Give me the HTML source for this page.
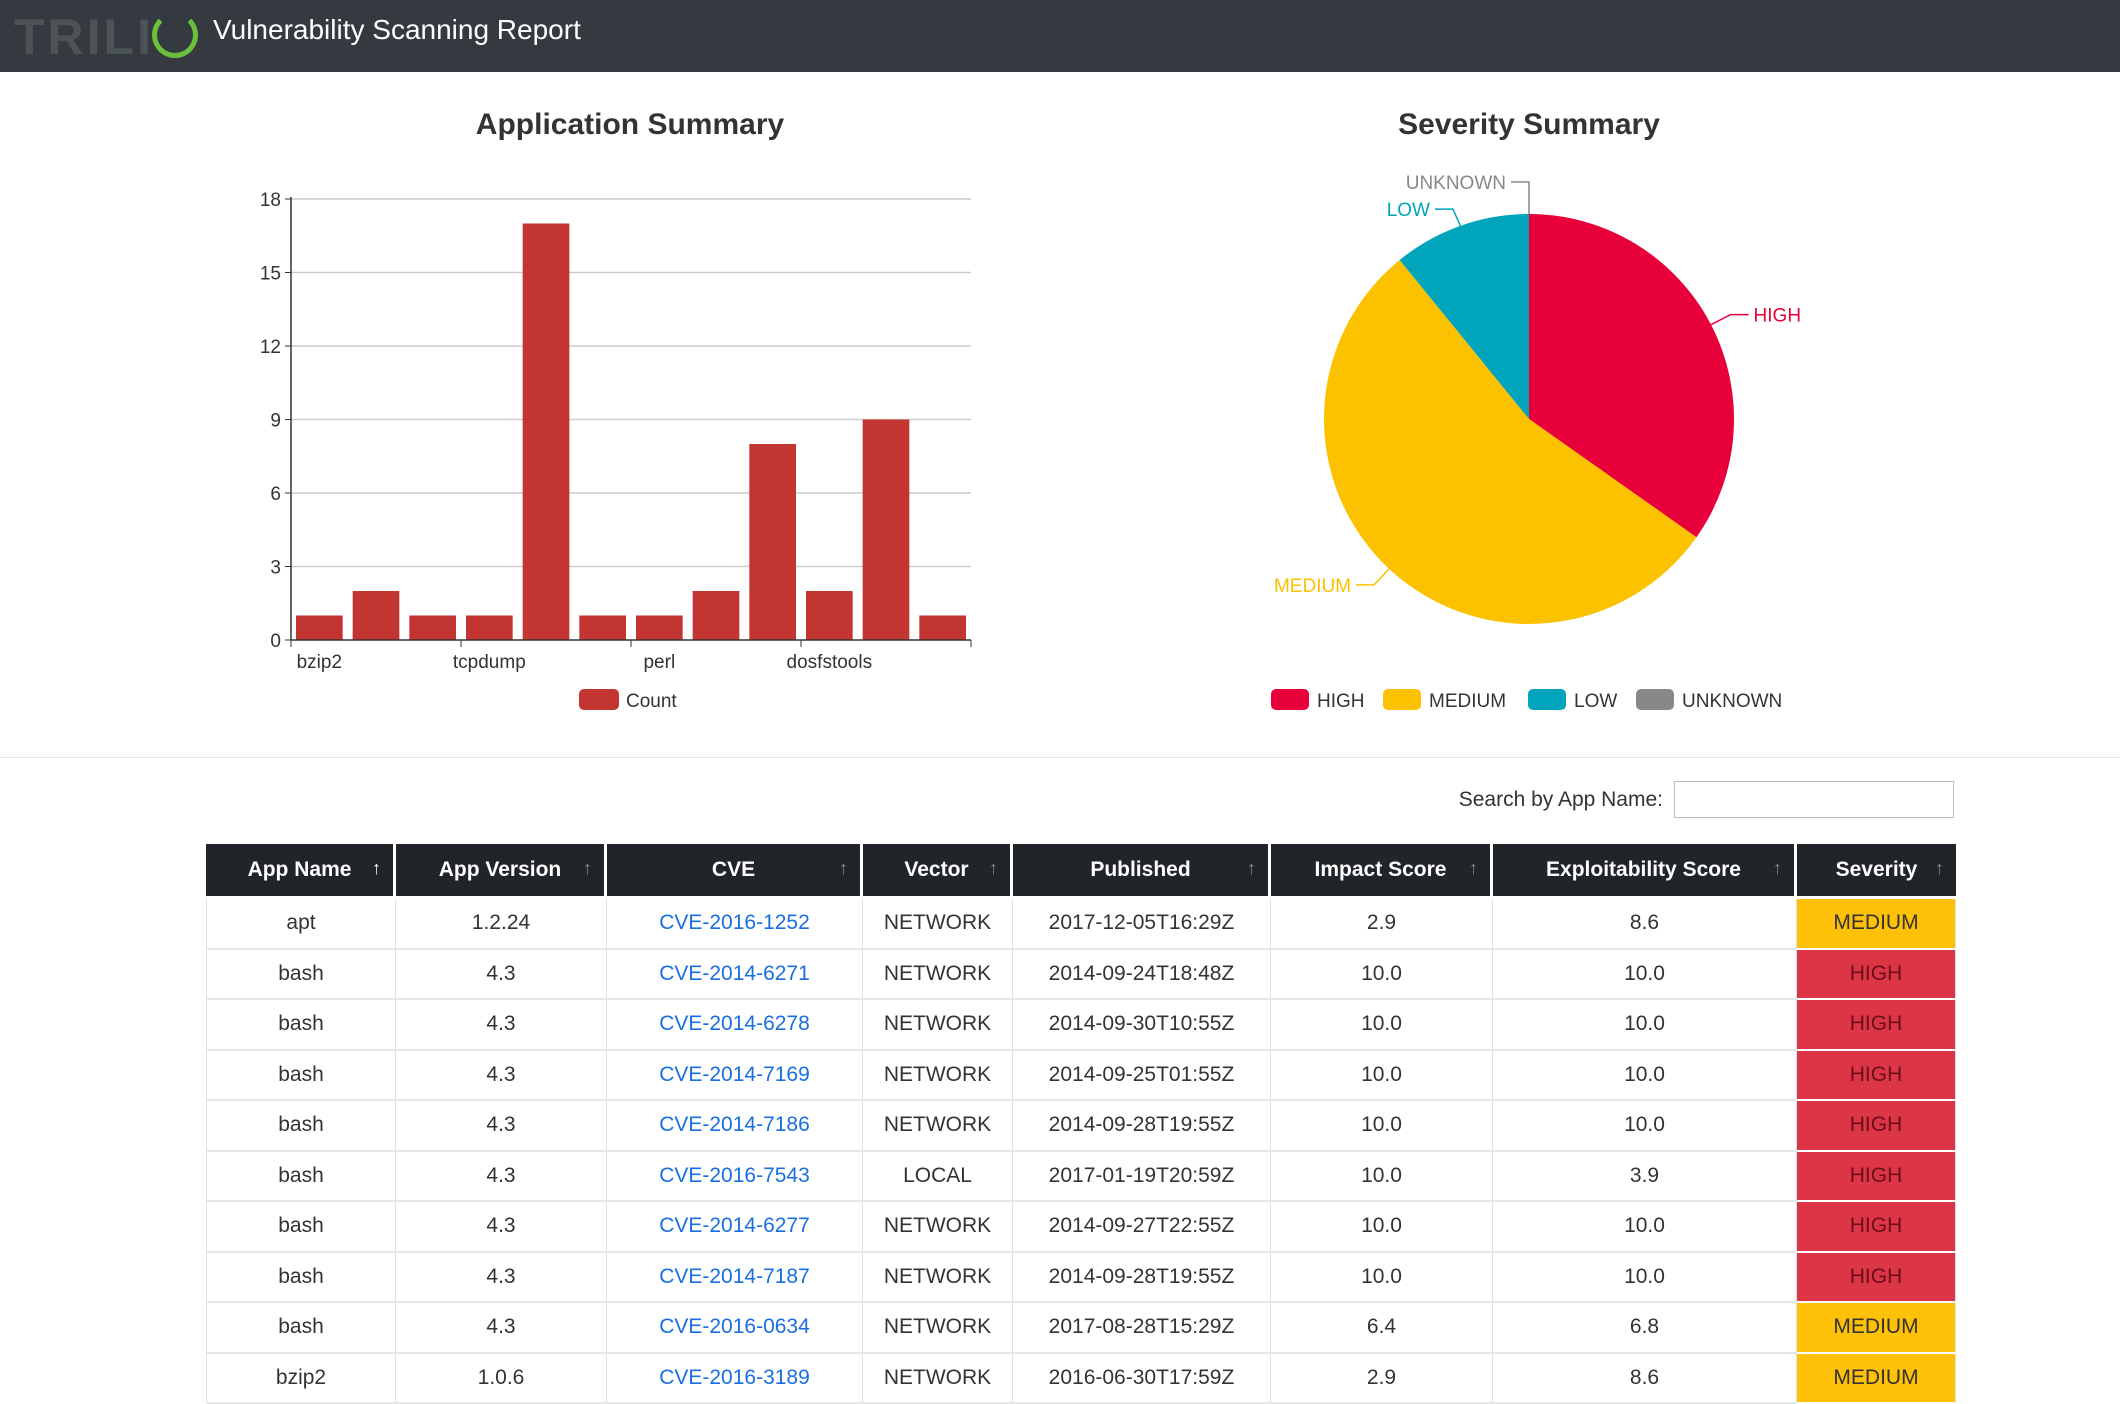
<!DOCTYPE html>
<html><head><meta charset="utf-8">
<style>
body{margin:0;width:2120px;height:1398px;overflow:hidden;background:#fff;font-family:"Liberation Sans",sans-serif;position:relative}
.hdr{position:absolute;left:0;top:0;width:2120px;height:72px;background:#343a40}
.logo{position:absolute;left:14px;top:8px;font-size:50px;font-weight:bold;color:#4c5356;letter-spacing:3px}
.ring{position:absolute;left:152px;top:12px;width:36px;height:36px;border:5px solid #6cbf3a;border-radius:50%;border-top-color:transparent}
.ttl{position:absolute;left:213px;top:14px;font-size:28px;color:#fff}
.ctitle{position:absolute;font-size:30px;font-weight:bold;color:#333;transform:translateX(-50%);top:108px;white-space:nowrap}
.sep{position:absolute;left:0;top:757px;width:2120px;height:1px;background:#e5e5e5}
.slabel{position:absolute;right:457px;top:788px;font-size:21px;color:#333}
.sinput{position:absolute;left:1674px;top:781px;width:280px;height:37px;border:1px solid #bbb;box-sizing:border-box}
table{position:absolute;left:206px;top:844px;width:1750px;border-collapse:separate;border-spacing:0;table-layout:fixed;font-size:21px;color:#333}
th{background:#212529;color:#fff;height:52px;font-weight:bold;border-right:3px solid #fff;border-bottom:3px solid #fff;position:relative;padding:0;text-align:center}
th span.ar{position:absolute;right:12px;top:14px;font-weight:normal;color:#888;font-size:18px}
th.s span.ar{color:#fff}
td{height:48.5px;border-right:1px solid #dee2e6;border-bottom:2px solid #e6e6e6;text-align:center;padding:0}
td:first-child{border-left:1px solid #dee2e6}
td a{color:#1a6fe0;text-decoration:none}
td.med{background:#ffc107;border-bottom:2px solid #fff}
td.hi{background:#dc3545;border-bottom:2px solid #fff;color:#6b0f18}
</style></head><body>
<div class="hdr">
<div class="logo">TRILI</div>
<div class="ring"></div>
<div class="ttl">Vulnerability Scanning Report</div>
</div>
<div class="ctitle" style="left:630px">Application Summary</div>
<div class="ctitle" style="left:1529px">Severity Summary</div>
<svg id="charts" width="2120" height="760" style="position:absolute;left:0;top:0"></svg>
<div class="sep"></div>
<div class="slabel">Search by App Name:</div>
<div class="sinput"></div>
<table>
<colgroup><col style="width:190px"><col style="width:211px"><col style="width:256px"><col style="width:150px"><col style="width:258px"><col style="width:222px"><col style="width:304px"><col style="width:159px"></colgroup>
<tr>
<th class="s">App Name<span class="ar">↑</span></th>
<th>App Version<span class="ar">↑</span></th>
<th>CVE<span class="ar">↑</span></th>
<th>Vector<span class="ar">↑</span></th>
<th>Published<span class="ar">↑</span></th>
<th>Impact Score<span class="ar">↑</span></th>
<th>Exploitability Score<span class="ar">↑</span></th>
<th style="border-right:0">Severity<span class="ar">↑</span></th>
</tr>
<tr><td>apt</td><td>1.2.24</td><td><a>CVE-2016-1252</a></td><td>NETWORK</td><td>2017-12-05T16:29Z</td><td>2.9</td><td>8.6</td><td class="med">MEDIUM</td></tr>
<tr><td>bash</td><td>4.3</td><td><a>CVE-2014-6271</a></td><td>NETWORK</td><td>2014-09-24T18:48Z</td><td>10.0</td><td>10.0</td><td class="hi">HIGH</td></tr>
<tr><td>bash</td><td>4.3</td><td><a>CVE-2014-6278</a></td><td>NETWORK</td><td>2014-09-30T10:55Z</td><td>10.0</td><td>10.0</td><td class="hi">HIGH</td></tr>
<tr><td>bash</td><td>4.3</td><td><a>CVE-2014-7169</a></td><td>NETWORK</td><td>2014-09-25T01:55Z</td><td>10.0</td><td>10.0</td><td class="hi">HIGH</td></tr>
<tr><td>bash</td><td>4.3</td><td><a>CVE-2014-7186</a></td><td>NETWORK</td><td>2014-09-28T19:55Z</td><td>10.0</td><td>10.0</td><td class="hi">HIGH</td></tr>
<tr><td>bash</td><td>4.3</td><td><a>CVE-2016-7543</a></td><td>LOCAL</td><td>2017-01-19T20:59Z</td><td>10.0</td><td>3.9</td><td class="hi">HIGH</td></tr>
<tr><td>bash</td><td>4.3</td><td><a>CVE-2014-6277</a></td><td>NETWORK</td><td>2014-09-27T22:55Z</td><td>10.0</td><td>10.0</td><td class="hi">HIGH</td></tr>
<tr><td>bash</td><td>4.3</td><td><a>CVE-2014-7187</a></td><td>NETWORK</td><td>2014-09-28T19:55Z</td><td>10.0</td><td>10.0</td><td class="hi">HIGH</td></tr>
<tr><td>bash</td><td>4.3</td><td><a>CVE-2016-0634</a></td><td>NETWORK</td><td>2017-08-28T15:29Z</td><td>6.4</td><td>6.8</td><td class="med">MEDIUM</td></tr>
<tr><td>bzip2</td><td>1.0.6</td><td><a>CVE-2016-3189</a></td><td>NETWORK</td><td>2016-06-30T17:59Z</td><td>2.9</td><td>8.6</td><td class="med">MEDIUM</td></tr>
</table>
<script>
const barCategories = ["bzip2","c2","c3","tcpdump","c5","c6","perl","c8","c9","dosfstools","c11","c12"];
const barValues = [1,2,1,1,17,1,1,2,8,2,9,1];
const yTicks = [0,3,6,9,12,15,18];
const xLabelIdx = [0,3,6,9];
const pieNames = ["HIGH","MEDIUM","LOW","UNKNOWN"];
const pieValues = [16,25,5,0];
const pieColors = ["#e8003a","#fcc200","#00a5bb","#888888"];

const NS="http://www.w3.org/2000/svg";
const svg=document.getElementById('charts');
function mk(t,a,p){const e=document.createElementNS(NS,t);for(const k in a)e.setAttribute(k,a[k]);(p||svg).appendChild(e);return e;}
const X0=291,X1=971,Y0=640,Y1=199,YMAX=18;
const y=v=>Y0-(v/YMAX)*(Y0-Y1);
const bw=(X1-X0)/barCategories.length;
const x=i=>X0+i*bw;
yTicks.forEach(t=>{
  if(t>0){const g=mk('line',{x1:X0,x2:X1,y1:y(t),y2:y(t),stroke:'#ccc','stroke-width':1.5});
  
  }
  mk('line',{x1:X0-6,x2:X0,y1:y(t),y2:y(t),stroke:'#333'});
  const tx=mk('text',{x:X0-10,y:y(t)+7,'text-anchor':'end','font-size':19,fill:'#333'});
  tx.textContent=t;
  
  
});
barValues.forEach((v,i)=>{
  const r=mk('rect',{x:x(i)+5,y:y(v),width:bw-10,height:Y0-y(v),fill:'#c23531'});
  
  
});
mk('line',{x1:X0,x2:X0,y1:Y1-2,y2:Y0,stroke:'#333','stroke-width':1.5});
mk('line',{x1:X0,x2:X1,y1:Y0,y2:Y0,stroke:'#333','stroke-width':1.5});
for(let i=0;i<=barCategories.length;i+=3){mk('line',{x1:x(i),x2:x(i),y1:Y0,y2:Y0+7,stroke:'#333'});}
xLabelIdx.forEach(i=>{
  const t=mk('text',{x:x(i)+bw/2,y:Y0+28,'text-anchor':'middle','font-size':19,fill:'#333'});
  t.textContent=barCategories[i];
  
  
});
const lr=mk('rect',{x:579,y:689,width:40,height:21,rx:5,fill:'#c23531'});


const lt=mk('text',{x:626,y:707,'font-size':19,fill:'#333'});lt.textContent='Count';



// pie
const CX=1529,CY=419,R=205;
const total=pieValues.reduce((a,b)=>a+b,0);
let a0=0;
const pt=(a,r)=>[CX+r*Math.sin(a),CY-r*Math.cos(a)];
pieValues.forEach((v,i)=>{
  const da=v/total*2*Math.PI;const a1=a0+da;
  if(v>0){
    const [sx,sy]=pt(a0,R),[ex,ey]=pt(a1,R);
    const p=mk('path',{d:`M${CX},${CY}L${sx},${sy}A${R},${R} 0 ${da>Math.PI?1:0} 1 ${ex},${ey}Z`,fill:pieColors[i]});
    
    
  }
  const m=(a0+a1)/2;
  let [px,py]=pt(m,R);let [bx,by]=pt(m,R+22);
  if(v===0){by=by-10;}
  if(i===2){by=by+4;}
  const right=Math.sin(m)>0.001;
  const hx=right?bx+18:bx-18;
  const ln=mk('polyline',{points:`${px},${py} ${bx},${by} ${hx},${by}`,fill:'none',stroke:pieColors[i],'stroke-width':1.5});
  
  
  const t=mk('text',{x:right?hx+5:hx-5,y:by+7,'text-anchor':right?'start':'end','font-size':19,fill:pieColors[i]});
  t.textContent=pieNames[i];
  
  
  a0=a1;
});
const legX=[1271,1383,1528,1636];
pieNames.forEach((n,i)=>{
  const r=mk('rect',{x:legX[i],y:689,width:38,height:21,rx:5,fill:pieColors[i]});
  
  
  const t=mk('text',{x:legX[i]+46,y:707,'font-size':19,fill:'#333'});t.textContent=n;
  
  
});
</script>
</body></html>
